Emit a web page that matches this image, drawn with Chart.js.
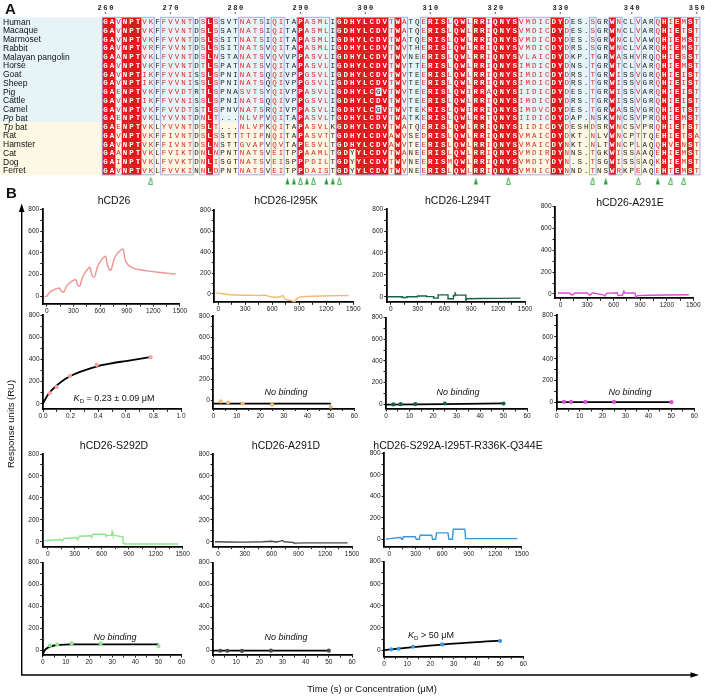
<!DOCTYPE html>
<html>
<head>
<meta charset="utf-8">
<script src="https://cdn.jsdelivr.net/npm/chart.js@4.4.1/dist/chart.umd.min.js"></script>
<style>
  body { margin: 0; background: #fff; }
  #wrap { position: relative; width: 705px; height: 696px; overflow: hidden; font-family: Arial, "Liberation Sans", sans-serif; color: #111; }
  #wrap canvas, #wrap svg { position: absolute; left: 0; top: 0; }
  .t { position: absolute; transform: translate(-50%, -50%); white-space: nowrap; }
  .title { font-size: 10.5px; }
  .nb { font-size: 9px; font-style: italic; }
  .kd { font-size: 9px; }
  .kd sub { font-size: 6px; vertical-align: -2px; }
  .lbl { position: absolute; font-weight: bold; font-size: 15px; }
</style>
</head>
<body>
<div id="wrap">
  <svg width="705" height="696">
    <line x1="21.7" y1="209" x2="21.7" y2="675" stroke="#000" stroke-width="1.4"/>
    <polygon points="21.7,203.5 18.9,212 24.5,212" fill="#000"/>
    <line x1="21" y1="675" x2="692" y2="675" stroke="#000" stroke-width="1.4"/>
    <polygon points="699,675 690.5,672.2 690.5,677.8" fill="#000"/>
  </svg>
  <div class="lbl" style="left:5px;top:0px">A</div>
  <div class="lbl" style="left:6px;top:184px">B</div>

  <div class="t title" style="left:114px;top:200px">hCD26</div>
  <div class="t title" style="left:286px;top:200px">hCD26-I295K</div>
  <div class="t title" style="left:458px;top:200px">hCD26-L294T</div>
  <div class="t title" style="left:630px;top:202px">hCD26-A291E</div>
  <div class="t title" style="left:114px;top:445px">hCD26-S292D</div>
  <div class="t title" style="left:286px;top:445px">hCD26-A291D</div>
  <div class="t title" style="left:458px;top:445px">hCD26-S292A-I295T-R336K-Q344E</div>

  <div class="t nb" style="left:286px;top:392px">No binding</div>
  <div class="t nb" style="left:458px;top:392px">No binding</div>
  <div class="t nb" style="left:630px;top:392px">No binding</div>
  <div class="t nb" style="left:115px;top:637px">No binding</div>
  <div class="t nb" style="left:286px;top:637px">No binding</div>

  <div class="t kd" style="left:114px;top:398px"><i>K</i><sub>D</sub> = 0.23 ± 0.09 μM</div>
  <div class="t kd" style="left:431px;top:635px"><i>K</i><sub>D</sub> &gt; 50 μM</div>

  <div class="t" style="left:10px;top:424px;font-size:9.5px;transform:translate(-50%,-50%) rotate(-90deg)">Response units (RU)</div>
  <div class="t" style="left:372px;top:688px;font-size:9.5px">Time (s) or Concentration (μM)</div>
</div>

<script>
// ---------- Panel A : alignment ----------
const species = ['Human', 'Macaque', 'Marmoset', 'Rabbit', 'Malayan pangolin', 'Horse', 'Goat', 'Sheep', 'Pig',
  'Cattle', 'Camel', 'Pp bat', 'Tp bat', 'Rat', 'Hamster', 'Cat', 'Dog', 'Ferret'];

// residues 260-280 | 281-316 | 317-333, gap, 334-350
const seqs = [
  'GAVNPTVKFFVVNTDSLSSVT' + 'NATSIQITAPASMLIGDHYLCDVTWATQERISLQWL' + 'RRIQNYSVMDICDYDES.SGRWNCLVARQHIEMST',
  'GAVNPTVKFFVVNTDSLSSAT' + 'NATSIQITAPASMLIGDHYLCDVTWATQERISLQWL' + 'RRIQNYSVMDICDYDES.SGRWNCLVARQHIETST',
  'GAVNPTVKFFVVNTDSLSSIT' + 'NATSIQITAPASMLIGDHYLCDVTWATQERISLQWL' + 'RRIQNYSVMDICDYDES.SGRWNCLVAWQHIEMST',
  'GAVNPTVRFFVVNTDSLSSIT' + 'NATSVQITAPASMLIGDHYLCDVTWVTHERISLQWL' + 'RRIQNYSVMDICDYDRS.SGRWNCLVARQHIEMST',
  'GAANPTVKLFVVNTDSLNSTA' + 'NATSVQVVPPASVLIGDHYLCDVTWVNEERISLQWL' + 'RRIQNYSVLAICDYDKP.TGRWASHVRQQHIESST',
  'GAVNPTVKFFVVNTDTLSPAT' + 'NATSVQITAPASVLIGDHYLCDVTWVTTERISLQWL' + 'RRIQNYSIMDICDYDNS.TGRWTCLVARQHIEMST',
  'GAVNPTIKFFVVNISSLSPNI' + 'NATSQQIVPPGSVLIGDHYLCDVTWVTEERISLQWL' + 'RRIQNYSIMDICDYDRS.TGRWISSVGRQHIEIST',
  'GAVNPTIKFFVVNISSLSPNI' + 'NATSQQIVPPGSVLIGDHYLCDVTWVTEERISLQWL' + 'RRIQNYSIMDICDYDRS.TGRWISSVGRQHIEIST',
  'GAENPTVKFFVVDTRTLSPNA' + 'SVTSYQIVPPASVLIGDHYLCGVTWVTEERISLQWI' + 'RRAQNYSIIDICDYDES.TGRWISSVARQHIEIST',
  'GAVNPTIKFFVVNISSLSPNI' + 'NATSQQIVPPGSVLIGDHYLCDVTWVTEERISLQWL' + 'RRIQNYSIMDICDYDRS.TGRWISSVGRQHIEIST',
  'GAVNPTVKFFVVDTSTLSPNV' + 'NATSRQIVPPASVLIGDHYLCGVTWVTEKRISLQWI' + 'RRIQNYSIMDVCDYDES.TGRWASSVGRQHIETST',
  'GAENPTVKLYVVNTDNLT...' + 'NLVPVQITAPASVLTGDHYLCDVTWATKERISLQWL' + 'RRTQNYSIIDICDYDAP.NSKWNCSVPRQHIEMST',
  'GAENPTVKLYVVNTDSLT...' + 'NLVPKQITAPASVLKGDHYLCDVTWATQERISLQWL' + 'RRIQNYSIIDICDYDESHDSRWNCSVPRQHIETST',
  'GAVNPTVKFFIVNTDSLSSTT' + 'TTIPNQITAPASVTTGDHYLCDVAWVSEDRISLQWL' + 'RRIQNYSVMAICDYDKT.NLVWNCPTTQEHIETSA',
  'GAVNPTVKFFIVNTDSLNSTT' + 'GVAPVQVTAPESVLTGDHYLCDVAWVTEERISLQWL' + 'RRIQNYSVMAICDYNKT.NLTWNCPLAQQHVENST',
  'GAANPTVKLFVIKTDNLNPNT' + 'NATSVEITPPAAMLTGDYYLCDVTWANEERISLQWL' + 'RRIQNYSVMDIRDYNNS.TGKWISSAAQEHIEMST',
  'GAINPTVKLFVVKTDNLISGT' + 'NATSVEISPPPDILTGDYYLCDVTWVNEERISMQWL' + 'RRIQNYSVMDIYDYN.S.TSGWISSSAQKHIEMST',
  'GAVNPTVKLFVVKINNLDPNT' + 'NATSVEITPPDAISTGDYYLCDVTWVNEERISLQWL' + 'RRIQNYSVMNICDYNND.TNSWRKPEAQEHTEMST'
];

// R = identical (red box), r = similar (red letters), . = none
const colClass = 'RRrRRRrr.rrrrr.rRr...' + 'rrrr.rr..Rrrrr.RRRRRRRRrRr..rRRRrRRr' + 'RRrRRRRrrrrrRRr...r..Rr..r..rRrRrRr';

const residueTicks = [260, 270, 280, 290, 300, 310, 320, 330, 340, 350];
const contactsFilled = [288, 289, 291, 294, 295, 317, 336, 344];
const contactsOpen = [267, 290, 292, 296, 322, 334, 341, 346, 348];

// ---------- Panel B : sensorgrams (time s, RU) ----------
const wtTime = [-25, 0, 20, 50, 90, 130, 140, 150, 165, 180, 190, 220, 260, 300, 320, 330, 345, 360, 370, 400, 440, 475, 485, 495, 510, 525, 535, 570, 610, 645, 660, 668, 680, 700, 712, 725, 760, 800, 840, 855, 865, 880, 910, 960, 1050, 1150, 1250, 1350, 1450];
const wtRU = [0, 0, 25, 48, 65, 75, 78, 70, 48, 40, 38, 90, 125, 148, 155, 150, 110, 95, 92, 170, 230, 262, 270, 240, 195, 180, 175, 270, 330, 362, 370, 360, 300, 255, 238, 245, 345, 400, 428, 435, 420, 345, 295, 265, 245, 232, 222, 214, 206];

const i295kTime = [-30, 0, 50, 110, 200, 300, 370, 450, 520, 540, 560, 600, 640, 680, 700, 720, 740, 780, 820, 850, 870, 900, 960, 1050, 1150, 1250, 1350, 1450];
const i295kRU = [8, 8, 2, -6, -10, -13, -12, -16, -10, -16, -22, -30, -32, -30, -20, -15, -50, -58, -66, -75, -45, -32, -25, -22, -20, -18, -16, -15];

const l294tTime = [-30, 130, 130, 180, 180, 300, 300, 400, 400, 480, 480, 530, 530, 640, 640, 700, 700, 715, 720, 730, 840, 840, 850, 1000, 1200, 1450];
const l294tRU = [0, 0, -6, -6, 0, 0, 8, 8, 2, 2, -12, -12, 18, 18, -18, -18, 10, 10, 32, 15, 15, -35, -18, -16, -14, -12];

const a291eTime = [-30, 100, 130, 160, 300, 330, 360, 480, 500, 520, 640, 650, 700, 715, 725, 840, 850, 870, 1000, 1200, 1450];
const a291eRU = [8, 8, -10, 8, 8, -12, 10, -8, -20, 5, 10, -15, -10, 25, 8, 8, -30, -15, -12, -10, -8];

const s292dTime = [-35, 0, 150, 160, 180, 320, 335, 350, 480, 490, 500, 640, 650, 660, 710, 715, 725, 835, 840, 860, 1450];
const s292dRU = [8, 12, 20, 8, 30, 38, 15, 50, 55, 38, 68, 70, 48, 58, 58, 92, 60, 45, -15, -20, -20];

const a291dTime = [-35, 100, 300, 500, 600, 650, 700, 720, 740, 840, 850, 1000, 1450];
const a291dRU = [0, -2, -3, 0, 5, -2, 6, 12, 0, -5, -12, -10, -10];

const s292aTime = [-38, 0, 120, 130, 140, 150, 160, 295, 305, 340, 350, 480, 490, 525, 535, 665, 675, 715, 725, 855, 865, 1450];
const s292aRU = [0, 5, 15, 15, 0, 0, 22, 22, 0, 0, 37, 37, 0, 0, 59, 59, 0, 0, 93, 93, 5, 5];

// ---------- Panel B : steady state (μM, RU) ----------
const wtConc = [0.049, 0.098, 0.195, 0.39, 0.78];
const wtEq = [95, 150, 250, 350, 420];
const wtFitX = [0, 0.025, 0.05, 0.1, 0.15, 0.2, 0.3, 0.4, 0.5, 0.6, 0.7, 0.78];
const wtFitY = [0, 60, 105, 165, 215, 250, 300, 340, 365, 385, 405, 420];

const mutConc = [3.125, 6.25, 12.5, 25, 50];
const i295kEq = [-13, -23, -33, -46, -66];
const i295kFitX = [0, 50], i295kFitY = [-33, -33];
const l294tEq = [-3, 0, 0, 6, 6];
const l294tFitX = [0, 50], l294tFitY = [-5, 7];
const a291eEq = [5, 5, 5, 5, 2];
const a291eFitX = [0, 50], a291eFitY = [3, 3];
const s292dEq = [42, 50, 61, 61, 37];
const s292dFitX = [0.1, 0.5, 1, 2, 3, 5, 7.5, 12, 20, 30, 40, 50];
const s292dFitY = [-46, -15, 2, 20, 30, 42, 48, 52, 53, 53, 53, 52];
const a291dEq = [-6, -6, -8, -5, -5];
const a291dFitX = [0, 50], a291dFitY = [-5, -5];
const s292aEq = [6, 12, 30, 51, 82];
const s292aFitX = [0, 3.125, 6.25, 12.5, 25, 50];
const s292aFitY = [0, 7, 14, 27, 50, 85];

const timeTicks = [0, 150, 300, 450, 600, 750, 900, 1050, 1200, 1350, 1500];
const concTicks = [0, 5, 10, 15, 20, 25, 30, 35, 40, 45, 50, 55, 60];
const wtConcTicks = [0, 0.1, 0.2, 0.3, 0.4, 0.5, 0.6, 0.7, 0.8, 0.9, 1.0];
const ruTicks = [0, 100, 200, 300, 400, 500, 600, 700, 800];

Chart.defaults.font.family = 'Arial, "Liberation Sans", sans-serif';
const W = 705, H = 696, YW = 20, XH = 11;
const wrap = document.getElementById('wrap');

function newCanvas() {
  const cv = document.createElement('canvas');
  cv.width = W; cv.height = H;
  wrap.insertBefore(cv, wrap.querySelector('.lbl'));
  return cv;
}

// ---- alignment chart ----
const colOf = n => n <= 333 ? n - 260 : n - 259;

function triImg(filled) {
  const c = document.createElement('canvas');
  c.width = 5; c.height = 8;
  const g = c.getContext('2d');
  g.beginPath(); g.moveTo(2.5, 0.6); g.lineTo(4.4, 7.4); g.lineTo(0.6, 7.4); g.closePath();
  if (filled) { g.fillStyle = '#1f9a35'; g.fill(); }
  else { g.fillStyle = '#fff'; g.fill(); g.strokeStyle = '#2ca544'; g.lineWidth = 0.9; g.stroke(); }
  return c;
}

const alignPlugin = {
  id: 'align',
  beforeDatasetsDraw(chart) {
    const ctx = chart.ctx, xs = chart.scales.x, ys = chart.scales.y;
    const cw = xs.getPixelForValue(1) - xs.getPixelForValue(0);
    const rh = ys.getPixelForValue(1) - ys.getPixelForValue(0);
    const nCol = colClass.length;
    const xR = xs.getPixelForValue(nCol - 0.5);
    ctx.save();
    // row backgrounds
    species.forEach((name, i) => {
      const yc = ys.getPixelForValue(i);
      ctx.fillStyle = i < 12 ? '#e6f4f7' : '#fdf8e4';
      ctx.fillRect(0, yc - rh / 2, xR, rh);
    });
    // red identity cells + letters
    ctx.textAlign = 'center';
    ctx.textBaseline = 'middle';
    for (let c = 0; c < nCol; c++) {
      const cls = colClass[c];
      const counts = {};
      seqs.forEach(s => { const a = s[c]; if (a && a !== '.') counts[a] = (counts[a] || 0) + 1; });
      const cons = Object.keys(counts).sort((a, b) => counts[b] - counts[a])[0];
      const xc = xs.getPixelForValue(c);
      seqs.forEach((s, i) => {
        const a = s[c];
        if (!a) return;
        const yc = ys.getPixelForValue(i);
        if (cls === 'R' && a === cons) {
          ctx.fillStyle = '#e3161b';
          ctx.fillRect(xc - cw / 2, yc - rh / 2, cw + 0.3, rh + 0.3);
          ctx.fillStyle = '#fff';
          ctx.font = 'bold 7.5px "Liberation Mono", "DejaVu Sans Mono", monospace';
        } else {
          ctx.fillStyle = (cls === 'r' && a !== '.') ? '#e0262b' : '#222';
          ctx.font = '7.5px "Liberation Mono", "DejaVu Sans Mono", monospace';
        }
        ctx.fillText(a, xc, yc + 0.5);
      });
    }
    // blue frames round conserved blocks
    const yT = ys.getPixelForValue(-0.5), yB = ys.getPixelForValue(seqs.length - 0.5);
    ctx.strokeStyle = '#9da2ee';
    ctx.lineWidth = 0.9;
    let c = 0;
    while (c < nCol) {
      if (colClass[c] === '.') { c++; continue; }
      let e = c;
      while (e + 1 < nCol && colClass[e + 1] !== '.') e++;
      ctx.strokeRect(xs.getPixelForValue(c - 0.5), yT, (e - c + 1) * cw, yB - yT);
      c = e + 1;
    }
    // species names
    ctx.textAlign = 'left';
    ctx.fillStyle = '#111';
    species.forEach((name, i) => {
      const yc = ys.getPixelForValue(i) + 0.5;
      if (name.endsWith(' bat')) {
        ctx.font = 'italic 8.5px Arial, "Liberation Sans", sans-serif';
        const sp = name.split(' ')[0];
        ctx.fillText(sp, 3, yc);
        const w = ctx.measureText(sp + ' ').width;
        ctx.font = '8.5px Arial, "Liberation Sans", sans-serif';
        ctx.fillText('bat', 3 + w, yc);
      } else {
        ctx.font = '8.5px Arial, "Liberation Sans", sans-serif';
        ctx.fillText(name, 3, yc);
      }
    });
    // residue numbering
    ctx.textAlign = 'center';
    ctx.font = 'bold 7px "Liberation Mono", "DejaVu Sans Mono", monospace';
    if ('letterSpacing' in ctx) ctx.letterSpacing = '1.6px';
    residueTicks.forEach(n => {
      const xc = xs.getPixelForValue(colOf(n));
      ctx.fillStyle = '#222';
      ctx.fillText(String(n), xc + 0.8, 8.5);
      ctx.fillRect(xc - 0.6, 12.4, 1.2, 1.2);
    });
    ctx.restore();
  }
};

new Chart(newCanvas(), {
  type: 'scatter',
  data: {
    datasets: [
      { data: contactsFilled.map(n => ({ x: colOf(n), y: 18.2 })), pointStyle: triImg(true), pointRadius: 4 },
      { data: contactsOpen.map(n => ({ x: colOf(n), y: 18.2 })), pointStyle: triImg(false), pointRadius: 4 }
    ]
  },
  options: {
    responsive: false, animation: false, events: [],
    layout: { padding: { left: 102.2, right: W - 703, top: 17.3, bottom: H - 187.1 } },
    plugins: { legend: { display: false }, tooltip: { enabled: false } },
    scales: {
      x: { type: 'linear', min: -0.5, max: colClass.length - 0.5, display: false },
      y: { type: 'linear', min: -0.5, max: 18.9, reverse: true, display: false }
    }
  },
  plugins: [alignPlugin]
});

// ---- SPR plots ----
const plots = [
  { kind: 'sg', t: wtTime, v: wtRU, color: '#f09393', ax: 42.7, x1: 180, xmin: -45, y0: 209.3, y1: 304, ymin: -70, smooth: true },
  { kind: 'sg', t: i295kTime, v: i295kRU, color: '#f5b976', ax: 214.3, x1: 353.3, xmin: -44, y0: 210.3, y1: 302.3, ymin: -80 },
  { kind: 'sg', t: l294tTime, v: l294tRU, color: '#17604a', ax: 386.7, x1: 525, xmin: -45, y0: 209.1, y1: 302.3, ymin: -50 },
  { kind: 'sg', t: a291eTime, v: a291eRU, color: '#dc4dd4', ax: 555, x1: 693.3, xmin: -64, y0: 206.7, y1: 298.3, ymin: -40 },
  { kind: 'eq', c: wtConc, v: wtEq, fx: wtFitX, fy: wtFitY, color: '#f5a3a3', ax: 43, x1: 181, xmax: 1, xt: wtConcTicks, y0: 315, y1: 409.3, ymin: -50 },
  { kind: 'eq', c: mutConc, v: i295kEq, fx: i295kFitX, fy: i295kFitY, color: '#f5b976', ax: 213.3, x1: 354.3, xmax: 60, xt: concTicks, y0: 316, y1: 408.5, ymin: -80 },
  { kind: 'eq', c: mutConc, v: l294tEq, fx: l294tFitX, fy: l294tFitY, color: '#17604a', ax: 386, x1: 527, xmax: 60, xt: concTicks, y0: 317.7, y1: 409, ymin: -45 },
  { kind: 'eq', c: mutConc, v: a291eEq, fx: a291eFitX, fy: a291eFitY, color: '#dc4dd4', ax: 556.7, x1: 694.3, xmax: 60, xt: concTicks, y0: 315, y1: 409, ymin: -60 },
  { kind: 'sg', t: s292dTime, v: s292dRU, color: '#8ee58e', ax: 42.7, x1: 182.7, xmin: -56, y0: 454, y1: 546.7, ymin: -45 },
  { kind: 'sg', t: a291dTime, v: a291dRU, color: '#4a4a4a', ax: 213, x1: 352, xmin: -56, y0: 454, y1: 546.7, ymin: -45 },
  { kind: 'sg', t: s292aTime, v: s292aRU, color: '#3a98d8', ax: 384, x1: 521.7, xmin: -60, y0: 453.3, y1: 546.7, ymin: -70 },
  { kind: 'eq', c: mutConc, v: s292dEq, fx: s292dFitX, fy: s292dFitY, color: '#8ee58e', ax: 42.7, x1: 181.7, xmax: 60, xt: concTicks, y0: 562.7, y1: 655, ymin: -45 },
  { kind: 'eq', c: mutConc, v: a291dEq, fx: a291dFitX, fy: a291dFitY, color: '#4a4a4a', ax: 213, x1: 352, xmax: 60, xt: concTicks, y0: 562.7, y1: 655, ymin: -45 },
  { kind: 'eq', c: mutConc, v: s292aEq, fx: s292aFitX, fy: s292aFitY, color: '#3a98d8', ax: 384, x1: 523.3, xmax: 60, xt: concTicks, y0: 561.7, y1: 656.7, ymin: -60 }
];

function makePlot(p) {
  const datasets = [];
  let xmin, xmax, xt, xLabel;
  if (p.kind === 'sg') {
    xmin = p.xmin; xmax = 1500; xt = timeTicks;
    xLabel = v => (v % 300 === 0 ? v : '');
    datasets.push({
      data: p.t.map((x, i) => ({ x, y: p.v[i] })), showLine: true, borderColor: p.color,
      borderWidth: 1.4, pointRadius: 0, tension: 0, cubicInterpolationMode: p.smooth ? 'monotone' : 'default'
    });
  } else {
    xmin = 0; xmax = p.xmax; xt = p.xt;
    xLabel = p.xmax === 1 ? ((v, i) => (i % 2 === 0 ? v.toFixed(1) : '')) : (v => (v % 10 === 0 ? v : ''));
    datasets.push({ data: p.c.map((x, i) => ({ x, y: p.v[i] })), pointRadius: 2.1, backgroundColor: p.color, borderWidth: 0 });
    datasets.push({
      data: p.fx.map((x, i) => ({ x, y: p.fy[i] })), showLine: true, borderColor: '#000',
      borderWidth: 1.8, pointRadius: 0, cubicInterpolationMode: 'monotone'
    });
  }
  const axisStyle = {
    grid: { drawOnChartArea: false, drawTicks: true, tickLength: 2.5, color: '#000', lineWidth: 0.9 },
    border: { display: true, color: '#000', width: 1.8 }
  };
  new Chart(newCanvas(), {
    type: 'scatter',
    data: { datasets },
    options: {
      responsive: false, animation: false, events: [],
      layout: { padding: { left: p.ax - YW, right: W - p.x1, top: p.y0, bottom: H - p.y1 - XH } },
      plugins: { legend: { display: false }, tooltip: { enabled: false } },
      scales: {
        x: Object.assign({
          type: 'linear', min: xmin, max: xmax,
          afterFit: s => { s.height = XH; },
          afterBuildTicks: s => { s.ticks = xt.map(v => ({ value: v })); },
          ticks: { font: { size: 6.5 }, color: '#222', padding: 1, maxRotation: 0, autoSkip: false, callback: xLabel }
        }, axisStyle),
        y: Object.assign({
          type: 'linear', min: p.ymin, max: 800,
          afterFit: s => { s.width = YW; },
          afterBuildTicks: s => { s.ticks = ruTicks.map(v => ({ value: v })); },
          ticks: { font: { size: 6.5 }, color: '#222', padding: 1, autoSkip: false, callback: v => (v % 200 === 0 ? v : '') }
        }, axisStyle)
      }
    }
  });
}

plots.forEach(makePlot);
</script>
</body>
</html>
